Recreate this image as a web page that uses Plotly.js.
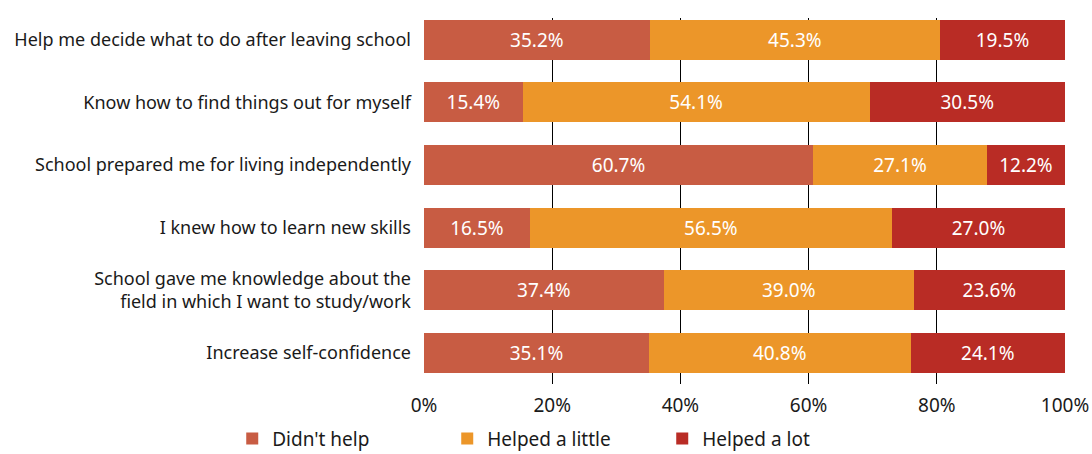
<!DOCTYPE html>
<html>
<head>
<meta charset="utf-8">
<script src="https://cdn.plot.ly/plotly-3.0.1.min.js"></script>
<style>html,body{margin:0;padding:0;background:#fff;}#chart{width:1092px;height:454px;}</style>
</head>
<body>
<div id="chart"></div>
<script>
const categories = [
  "Help me decide what to do after leaving school",
  "Know how to find things out for myself",
  "School prepared me for living independently",
  "I knew how to learn new skills",
  "School gave me knowledge about the<br>field in which I want to study/work",
  "Increase self-confidence"
];
const seriesNames = ["Didn't help", "Helped a little", "Helped a lot"];
const didntHelp = [35.2, 15.4, 60.7, 16.5, 37.4, 35.1];
const helpedLittle = [45.3, 54.1, 27.1, 56.5, 39.0, 40.8];
const helpedLot = [19.5, 30.5, 12.2, 27.0, 23.6, 24.1];
const tickVals = [0, 20, 40, 60, 80, 100];
const tickLabels = ["0%", "20%", "40%", "60%", "80%", "100%"];

const colors = ["#C85C43", "#EC9629", "#B92C25"];
const FONT = "Noto Sans, sans-serif";

const traces = [didntHelp, helpedLittle, helpedLot].map((vals, i) => ({
  type: 'bar',
  orientation: 'h',
  name: seriesNames[i],
  y: categories,
  x: vals,
  width: 0.64,
  marker: {color: colors[i], line: {width: 0}},
  text: vals.map(v => v.toFixed(1) + '%'),
  textposition: 'inside',
  insidetextanchor: 'middle',
  textangle: 0,
  constraintext: 'none',
  textfont: {color: '#ffffff', size: 19, family: FONT},
  hoverinfo: 'skip'
}));

const layout = {
  width: 1092,
  height: 454,
  barmode: 'stack',
  margin: {l: 424, r: 27, t: 18, b: 70, autoexpand: false},
  paper_bgcolor: '#ffffff',
  plot_bgcolor: '#ffffff',
  font: {family: FONT, size: 18, color: '#1a1a1a'},
  xaxis: {
    range: [0, 100],
    tickmode: 'array',
    tickvals: tickVals,
    ticktext: tickLabels,
    showgrid: true,
    gridcolor: '#000000',
    gridwidth: 1,
    zeroline: false,
    showline: false,
    ticks: '',
    ticklabelstandoff: 8,
    tickfont: {size: 19, family: FONT, color: '#1a1a1a'},
    automargin: false,
    fixedrange: true
  },
  yaxis: {
    type: 'category',
    range: [5.5, -0.35],
    autorange: false,
    showgrid: false,
    zeroline: false,
    showline: false,
    ticks: '',
    ticklabelstandoff: 12,
    automargin: false,
    tickfont: {size: 18, family: FONT, color: '#1a1a1a'},
    fixedrange: true
  },
  showlegend: true,
  legend: {
    orientation: 'h',
    xref: 'container',
    yref: 'container',
    x: 0.508,
    xanchor: 'center',
    y: 0.034,
    yanchor: 'middle',
    traceorder: 'normal',
    entrywidth: 170,
    itemwidth: 30,
    font: {size: 19, family: FONT, color: '#1a1a1a'}
  }
};

Plotly.newPlot('chart', traces, layout, {displayModeBar: false, staticPlot: true});
</script>
</body>
</html>
